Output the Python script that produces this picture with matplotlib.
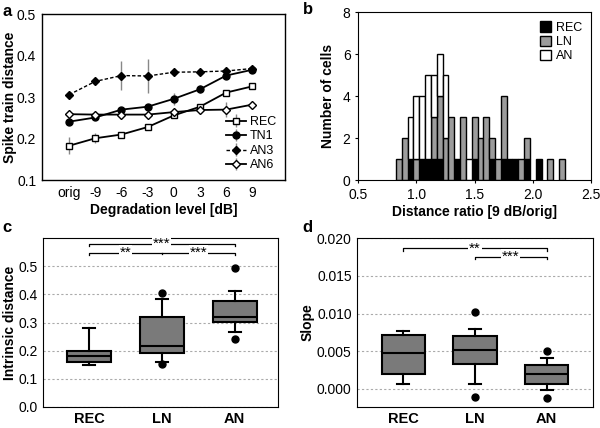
import matplotlib
matplotlib.use("Agg")
import matplotlib.pyplot as plt
import numpy as np

plt.rcParams['font.family'] = ['Liberation Sans', 'DejaVu Sans']
plt.rcParams['font.size'] = 9

# panel a: distance vs degradation level
levels = ["orig", "-9", "-6", "-3", "0", "3", "6", "9"]
rec_a = [0.183, 0.201, 0.210, 0.228, 0.256, 0.277, 0.311, 0.326]
tn1_a = [0.241, 0.251, 0.270, 0.277, 0.296, 0.319, 0.352, 0.366]
an3_a = [0.306, 0.338, 0.352, 0.351, 0.360, 0.361, 0.363, 0.369]
an6_a = [0.259, 0.258, 0.258, 0.258, 0.264, 0.269, 0.270, 0.282]
rec_err = [0.021, 0.012, 0.004, 0.004, 0.005, 0.004, 0.004, 0.003]
tn1_err = [0.004, 0.004, 0.004, 0.004, 0.014, 0.010, 0.004, 0.003]
an3_err = [0.004, 0.004, 0.034, 0.040, 0.004, 0.003, 0.003, 0.003]
an6_err = [0.004, 0.003, 0.003, 0.003, 0.004, 0.004, 0.018, 0.003]

# panel b: histogram of distance ratio (bin centres, counts per group)
bin_centers = [0.85, 0.90, 0.95, 1.00, 1.05, 1.10, 1.15, 1.20, 1.25, 1.30,
               1.35, 1.40, 1.45, 1.50, 1.55, 1.60, 1.65, 1.70, 1.75, 1.80,
               1.85, 1.90, 1.95, 2.00, 2.05, 2.10, 2.15, 2.20, 2.25]
rec_n = [0, 0, 1, 0, 1, 1, 1, 1, 0, 0, 1, 0, 0, 1, 0, 0, 1, 0, 1, 1,
         1, 0, 1, 0, 1, 0, 0, 0, 0]
ln_n = [1, 2, 0, 1, 0, 0, 2, 3, 2, 3, 0, 3, 0, 2, 2, 3, 1, 1, 3, 0,
        0, 1, 1, 0, 0, 0, 1, 0, 1]
an_n = [0, 0, 2, 3, 3, 4, 2, 2, 3, 0, 0, 0, 1, 0, 0, 0, 0, 0, 0, 0,
        0, 0, 0, 0, 0, 0, 0, 0, 0]

# panels c, d: box plot summaries
groups = ["REC", "LN", "AN"]
c_whislo = [0.147, 0.161, 0.265]
c_q1 = [0.158, 0.193, 0.301]
c_med = [0.179, 0.215, 0.319]
c_q3 = [0.200, 0.318, 0.378]
c_whishi = [0.281, 0.383, 0.412]
c_fliers = [[], [0.405, 0.152], [0.496, 0.242]]

d_whislo = [0.00066, 0.00058, -0.00022]
d_q1 = [0.0019, 0.0033, 0.00066]
d_med = [0.00469, 0.00518, 0.0019]
d_q3 = [0.00717, 0.00695, 0.0031]
d_whishi = [0.0077, 0.0080, 0.00407]
d_fliers = [[], [0.0102, -0.0011], [0.00496, -0.00128]]

fig = plt.figure(figsize=(6.0, 4.28), dpi=100)

# ---- a ----
ax = fig.add_axes([0.0695, 0.579, 0.4055, 0.388])
x = np.arange(len(levels))
ekw = dict(ecolor="#888888", elinewidth=1.0, capsize=0)
ax.errorbar(x, rec_a, yerr=rec_err, color="black", lw=1.3, marker="s", ms=4.5,
            mfc="white", mec="black", label="REC", **ekw)
ax.errorbar(x, tn1_a, yerr=tn1_err, color="black", lw=1.3, marker="o", ms=5,
            mfc="black", label="TN1", **ekw)
ax.errorbar(x, an3_a, yerr=an3_err, color="black", lw=1.0, ls=(0, (2.5, 1.5)), marker="D",
            ms=4.5, mfc="black", label="AN3", **ekw)
ax.errorbar(x, an6_a, yerr=an6_err, color="black", lw=1.3, marker="D", ms=4.5,
            mfc="white", mec="black", label="AN6", **ekw)
ax.set_xlim(-1.05, 8.25)
ax.set_ylim(0.1, 0.5)
ax.set_xticks(x)
ax.set_xticklabels(levels)
ax.set_yticks([0.1, 0.2, 0.3, 0.4, 0.5])
ax.tick_params(length=0, labelsize=10, pad=4)
ax.set_xlabel("Degradation level [dB]", fontweight="bold", fontsize=10, labelpad=2)
ax.set_ylabel("Spike train distance", fontweight="bold", fontsize=10)
ax.yaxis.set_label_coords(-0.10, 0.5)
for s in ax.spines.values():
    s.set_linewidth(1.0)
ax.legend(loc="lower right", frameon=False, fontsize=9, handlelength=1.6,
          labelspacing=0.2, handletextpad=0.3, borderaxespad=0.3)

# ---- b ----
bx = fig.add_axes([0.597, 0.579, 0.388, 0.392])
centers = np.array(bin_centers)
rec_n = np.array(rec_n)
ln_n = np.array(ln_n)
an_n = np.array(an_n)
w = 0.05
m = rec_n > 0
bx.bar(centers[m], rec_n[m], width=w, color="black", edgecolor="black", lw=1.0, label="REC")
m = ln_n > 0
bx.bar(centers[m], ln_n[m], bottom=rec_n[m], width=w, color="#9c9c9c",
       edgecolor="black", lw=1.0, label="LN")
m = an_n > 0
bx.bar(centers[m], an_n[m], bottom=(rec_n + ln_n)[m], width=w, color="white",
       edgecolor="black", lw=1.0, label="AN")
bx.set_xlim(0.5, 2.5)
bx.set_ylim(0, 8)
bx.set_xticks([0.5, 1.0, 1.5, 2.0, 2.5])
bx.set_yticks([0, 2, 4, 6, 8])
bx.tick_params(length=2, labelsize=10)
bx.set_xlabel("Distance ratio [9 dB/orig]", fontweight="bold", fontsize=10, labelpad=2)
bx.set_ylabel("Number of cells", fontweight="bold", fontsize=10)
bx.yaxis.set_label_coords(-0.10, 0.5)
bx.legend(loc="upper right", frameon=False, fontsize=9, handlelength=0.9,
          handleheight=0.9, labelspacing=0.15, handletextpad=0.4, borderaxespad=0.3)


def boxes(ax, lo, q1, med, q3, hi, fl):
    stats = []
    for i in range(len(groups)):
        stats.append(dict(whislo=lo[i], q1=q1[i], med=med[i], q3=q3[i],
                          whishi=hi[i], fliers=fl[i], label=groups[i]))
    ax.bxp(stats, positions=[1, 2, 3], widths=0.6, patch_artist=True,
           boxprops=dict(facecolor="#7a7a7a", edgecolor="black", lw=1.5),
           medianprops=dict(color="black", lw=1.5),
           whiskerprops=dict(color="black", lw=1.5),
           capprops=dict(color="black", lw=1.5),
           flierprops=dict(marker="o", mfc="black", mec="black", ms=5),
           capwidths=0.17)
    ax.yaxis.grid(True, ls=(0, (2, 2)), color="#aaaaaa", lw=0.8)
    ax.set_axisbelow(True)
    ax.tick_params(length=0, labelsize=10, pad=4)
    for t in ax.get_xticklabels():
        t.set_fontweight("bold")
        t.set_fontsize(10.5)


def star(ax, xc, y, txt):
    ax.text(xc, y, txt, ha="center", va="center", fontsize=11,
            bbox=dict(facecolor="white", edgecolor="none", pad=0.5))


def bracket(ax, x1, x2, y, h, txt):
    ax.plot([x1, x1, x2, x2], [y - h, y, y, y - h], color="black", lw=0.9)
    star(ax, (x1 + x2) / 2, y, txt)


# ---- c ----
cx = fig.add_axes([0.072, 0.0498, 0.392, 0.3932])
boxes(cx, c_whislo, c_q1, c_med, c_q3, c_whishi, c_fliers)
cx.set_xlim(0.37, 3.6)
cx.set_ylim(0.0, 0.6)
cx.set_yticks([0.0, 0.1, 0.2, 0.3, 0.4, 0.5])
cx.set_ylabel("Intrinsic distance", fontweight="bold", fontsize=10)
cx.yaxis.set_label_coords(-0.112, 0.5)
bracket(cx, 1.0, 3.0, 0.580, 0.007, "***")
cx.plot([1.0, 1.0, 3.0, 3.0], [0.542, 0.549, 0.549, 0.542], color="black", lw=0.9)
cx.plot([2.0, 2.0], [0.549, 0.543], color="black", lw=0.9)
star(cx, 1.5, 0.549, "**")
star(cx, 2.5, 0.549, "***")

# ---- d ----
dx = fig.add_axes([0.5955, 0.0498, 0.3935, 0.3932])
boxes(dx, d_whislo, d_q1, d_med, d_q3, d_whishi, d_fliers)
dx.set_xlim(0.36, 3.65)
dx.set_ylim(-0.0024, 0.020)
dx.set_yticks([0.0, 0.005, 0.010, 0.015, 0.020])
dx.set_yticklabels(["0.000", "0.005", "0.010", "0.015", "0.020"])
dx.set_ylabel("Slope", fontweight="bold", fontsize=10)
dx.yaxis.set_label_coords(-0.183, 0.5)
bracket(dx, 1.0, 3.0, 0.01867, 0.0003, "**")
bracket(dx, 2.0, 3.0, 0.01757, 0.0003, "***")

for lab, px, py in [("a", 7, 12), ("b", 308, 10), ("c", 7, 228), ("d", 307, 228)]:
    fig.text(px / 600, 1 - py / 428, lab, fontweight="bold", fontsize=12,
             ha="center", va="center")

fig.savefig("out.png", dpi=100)
